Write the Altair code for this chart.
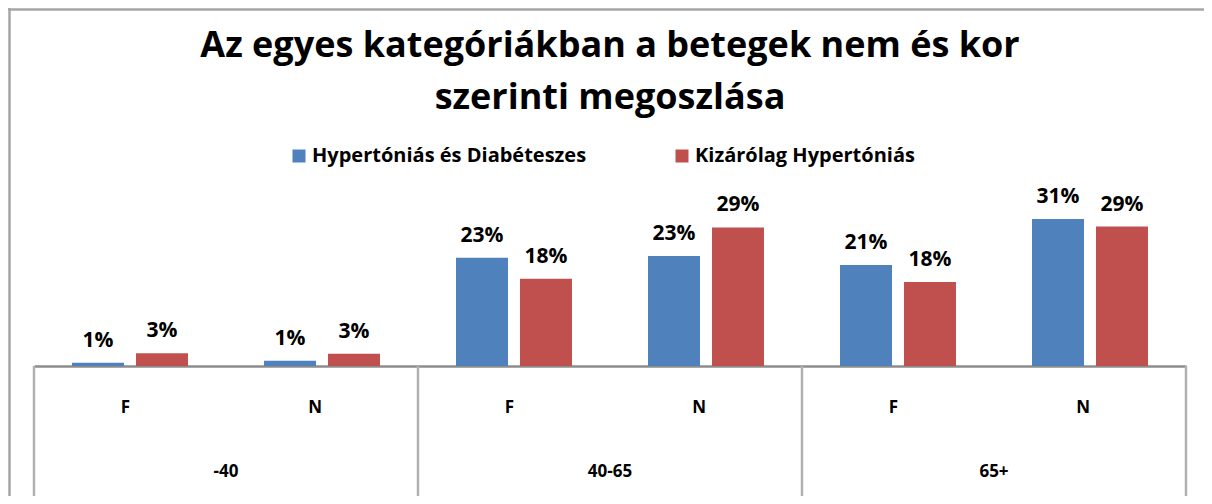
import altair as alt
import pandas as pd

# ---- data ----
ages = ["-40", "-40", "40-65", "40-65", "65+", "65+"]
sexes = ["F", "N", "F", "N", "F", "N"]
series_names = ["Hypertóniás és Diabéteszes", "Kizárólag Hypertóniás"]
hyp_diab = [0.7, 1.1, 22.8, 23.2, 21.3, 31.0]
hyp_only = [2.7, 2.6, 18.4, 29.2, 17.7, 29.4]
age_groups = ["-40", "40-65", "65+"]
colors = ["#4F81BD", "#C0504D"]
title_lines = ["Az egyes kategóriákban a betegek nem és kor", "szerinti megoszlása"]

keys = [f"{a}|{s}" for a, s in zip(ages, sexes)]
rows = []
for k, a, s, v1, v2 in zip(keys, ages, sexes, hyp_diab, hyp_only):
    rows.append(dict(key=k, age=a, sex=s, series=series_names[0], value=v1))
    rows.append(dict(key=k, age=a, sex=s, series=series_names[1], value=v2))
df = pd.DataFrame(rows)
df["label"] = df["value"].round(0).astype(int).astype(str) + "%"

W, H = 1152, 186
FONT = "Open Sans"

xscale = alt.Scale(domain=keys, paddingInner=0, paddingOuter=0)
yscale = alt.Scale(domain=[0, 39.2])

x_main = alt.X(
    "key:N",
    scale=xscale,
    sort=keys,
    title=None,
    axis=alt.Axis(
        labelExpr="split(datum.label, '|')[1]",
        ticks=False,
        tickSize=0,
        grid=False,
        domainColor="#8C8C8C",
        domainWidth=2.5,
        labelFont=FONT,
        labelFontSize=17,
        labelFontWeight="bold",
        labelColor="black",
        labelBaseline="middle",
        labelPadding=41,
        labelAngle=0,
    ),
)
xoff = alt.XOffset(
    "series:N",
    sort=series_names,
    scale=alt.Scale(paddingInner=0.1875, paddingOuter=0.594),
)
y_enc = alt.Y("value:Q", scale=yscale, axis=None)

bars = alt.Chart(df).mark_bar().encode(
    x=x_main,
    xOffset=xoff,
    y=y_enc,
    color=alt.Color(
        "series:N",
        sort=series_names,
        scale=alt.Scale(domain=series_names, range=colors),
        legend=alt.Legend(
            title=None,
            orient="none",
            direction="horizontal",
            legendX=255,
            legendY=-34,
            symbolType="square",
            symbolSize=169,
            symbolStrokeWidth=0,
            labelFont=FONT,
            labelFontSize=20,
            labelFontWeight="bold",
            labelColor="black",
            labelOffset=3,
            labelLimit=500,
            columnPadding=85,
            padding=0,
        ),
    ),
)

labels = alt.Chart(df).mark_text(
    dy=-16, baseline="alphabetic", font=FONT, fontSize=21, fontWeight="bold", color="black"
).encode(
    x=alt.X("key:N", scale=xscale, sort=keys),
    xOffset=xoff,
    y=y_enc,
    text="label:N",
)

div_df = pd.DataFrame({"key": [f"{a}|F" for a in age_groups]})
dividers = alt.Chart(div_df).mark_rule(color="#B0B0B0", strokeWidth=2.5).encode(
    x=alt.X("key:N", scale=xscale, sort=keys, bandPosition=0),
    y=alt.value(H),
    y2=alt.value(H + 130),
)
end_df = pd.DataFrame({"key": [f"{age_groups[-1]}|N"]})
end_divider = alt.Chart(end_df).mark_rule(color="#B0B0B0", strokeWidth=2.5).encode(
    x=alt.X("key:N", scale=xscale, sort=keys, bandPosition=1),
    y=alt.value(H),
    y2=alt.value(H + 130),
)

age_df = pd.DataFrame({"key": [f"{a}|N" for a in age_groups], "age": age_groups})
age_labels = alt.Chart(age_df).mark_text(
    font=FONT, fontSize=17, fontWeight="bold", color="black", baseline="middle"
).encode(
    x=alt.X("key:N", scale=xscale, sort=keys, bandPosition=0),
    y=alt.value(H + 106),
    text="age:N",
)

one = pd.DataFrame({"a": [0]})
frame_left = alt.Chart(one).mark_rule(color="#A6A6A6", strokeWidth=2.5).encode(
    x=alt.value(-24.5), y=alt.value(-172), y2=alt.value(H + 140)
)
frame_top = alt.Chart(one).mark_rule(color="#A6A6A6", strokeWidth=2.5).encode(
    y=alt.value(-170.5), x=alt.value(-26), x2=alt.value(W + 18)
)

chart = alt.layer(
    frame_left, frame_top, dividers, end_divider, bars, labels, age_labels
).properties(
    width=W,
    height=H,
    background="white",
    autosize=alt.AutoSizeParams(type="none"),
    padding={"left": 26, "top": 172, "right": 18, "bottom": 130},
    title=alt.TitleParams(
        text=title_lines,
        font=FONT,
        fontSize=36,
        fontWeight="bold",
        lineHeight=52,
        anchor="middle",
        color="black",
        offset=-110,
    ),
).configure_view(stroke=None)

chart.save("out.html", embed_options={"renderer": "svg", "actions": False})
